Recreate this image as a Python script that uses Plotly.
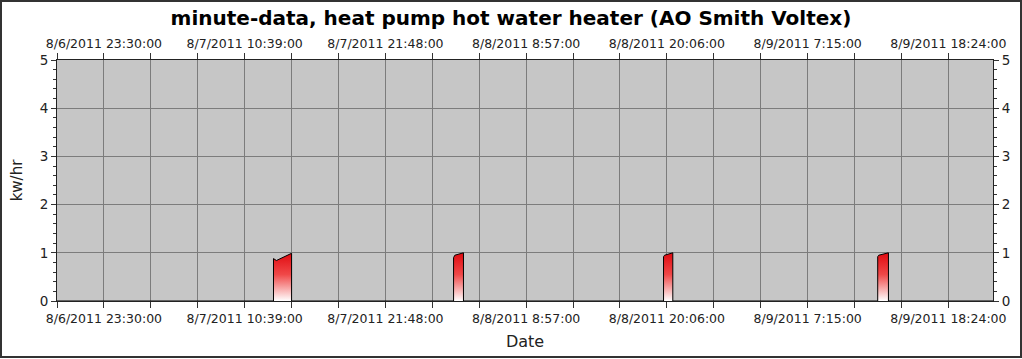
import plotly.graph_objects as go

# ---- data ----
times = [
    "2011-08-06 19:47", "2011-08-07 12:56",
    "2011-08-07 12:56", "2011-08-07 13:10", "2011-08-07 14:22",
    "2011-08-07 14:22", "2011-08-08 03:12",
    "2011-08-08 03:12", "2011-08-08 03:18", "2011-08-08 03:59",
    "2011-08-08 03:59", "2011-08-08 19:50",
    "2011-08-08 19:50", "2011-08-08 19:55", "2011-08-08 20:34",
    "2011-08-08 20:34", "2011-08-09 12:48",
    "2011-08-09 12:48", "2011-08-09 12:53", "2011-08-09 13:39",
    "2011-08-09 13:39", "2011-08-09 21:56",
]
kw = [
    0, 0,
    0.88, 0.84, 0.99,
    0, 0,
    0.90, 0.95, 1.0,
    0, 0,
    0.92, 0.95, 1.0,
    0, 0,
    0.92, 0.95, 1.0,
    0, 0,
]
x_range = ["2011-08-06 19:47", "2011-08-09 21:56"]
tick_start = "2011-08-06 23:30:00"
tick_step_min = 669
grid_step_min = 223
y_range = [0, 5]

title = "minute-data, heat pump hot water heater (AO Smith Voltex)"
x_title = "Date"
y_title = "kw/hr"

# ---- figure ----
W, H = 1022, 359
ml, mr, mt, mb = 57, 29, 60, 58
pw, ph = W - ml - mr, H - mt - mb
font = "DejaVu Sans"

fig = go.Figure()
fig.add_trace(go.Scatter(
    x=times, y=kw, mode="lines",
    line=dict(color="black", width=1),
    fill="tozeroy",
    fillgradient=dict(type="vertical", start=0, stop=1,
                      colorscale=[[0, "#ffffff"], [0.55, "#f04848"],
                                  [1, "#e00a10"]]),
    showlegend=False, hoverinfo="x+y",
))
# invisible trace to activate top / right axes
fig.add_trace(go.Scatter(x=x_range, y=y_range, xaxis="x2", yaxis="y2",
                         mode="markers", marker=dict(opacity=0),
                         showlegend=False, hoverinfo="skip"))

ms = 60000
xcommon = dict(
    type="date", range=x_range,
    tick0=tick_start, dtick=tick_step_min * ms,
    tickformat="%-m/%-d/%Y %-H:%M:%S",
    ticks="outside", ticklen=6, tickcolor="#333",
    tickfont=dict(family=font, size=12.5, color="#222"),
    showline=True, linecolor="#222", linewidth=1,
    minor=dict(tick0=tick_start, dtick=grid_step_min * ms, ticks="outside",
               ticklen=6, tickcolor="#333", showgrid=True,
               gridcolor="#7c7c7c", gridwidth=1),
    showgrid=True, gridcolor="#7c7c7c", gridwidth=1,
    zeroline=False, automargin=False,
)
ycommon = dict(
    range=y_range, dtick=1, tick0=0,
    ticks="outside", ticklen=5, tickcolor="#333",
    tickfont=dict(family=font, size=13.5, color="#222"),
    showline=True, linecolor="#222", linewidth=1,
    minor=dict(dtick=0.2, ticks="outside", ticklen=3, tickcolor="#333",
               showgrid=False),
    showgrid=True, gridcolor="#7c7c7c", gridwidth=1,
    zeroline=False, automargin=False,
)

fig.update_layout(
    width=W, height=H,
    margin=dict(l=ml, r=mr, t=mt, b=mb),
    paper_bgcolor="white", plot_bgcolor="#c6c6c6",
    title=dict(text=title, x=0.5, xanchor="center", y=1 - 18 / H,
               yanchor="middle", yref="container",
               font=dict(family=font, size=20, color="black", weight="bold")),
    xaxis=dict(**xcommon, side="bottom",
               title=dict(text=x_title, standoff=10,
                          font=dict(family=font, size=16, color="#222"))),
    xaxis2=dict(**xcommon, side="top", overlaying="x", matches="x"),
    yaxis=dict(**ycommon, side="left",
               title=dict(text=y_title, standoff=13,
                          font=dict(family=font, size=15, color="#222"))),
    yaxis2=dict(**ycommon, side="right", overlaying="y", matches="y"),
    shapes=[dict(type="rect", xref="paper", yref="paper",
                 x0=(-ml + 1) / pw, x1=(W - ml - 1) / pw,
                 y0=(-mb + 2) / ph, y1=(H - mb - 1) / ph,
                 line=dict(color="#333", width=2), layer="below")],
)

fig.write_html("out.html",
               config={"displayModeBar": False},
               post_script="document.body.style.margin='0';")
